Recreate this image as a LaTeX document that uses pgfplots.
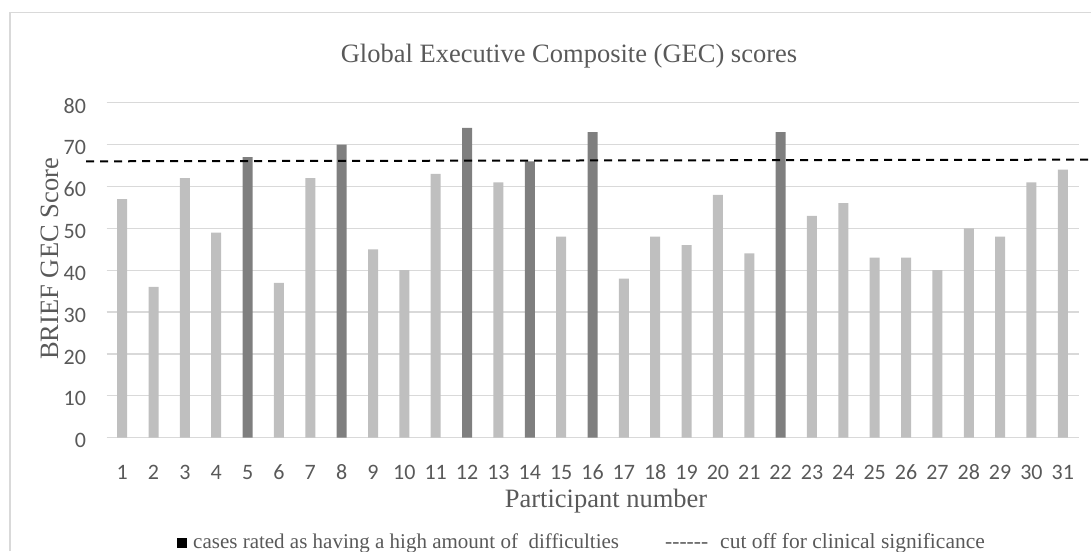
\documentclass[border=0pt]{standalone}
\usepackage{fontspec}
\setmainfont{Liberation Serif}
\newfontfamily\serif{Liberation Serif}
\newfontfamily\carlito{Carlito}
\usepackage{pgfplots}
\pgfplotsset{compat=1.18}

\definecolor{lightbar}{HTML}{BFBFBF}
\definecolor{darkbar}{HTML}{7F7F7F}
\definecolor{gridgray}{HTML}{D9D9D9}
\definecolor{textgray}{HTML}{595959}

\begin{document}
\begin{tikzpicture}[x=1pt,y=1pt]
\useasboundingbox (0,0) rectangle (1091,551);
% chart frame
\draw[gridgray, line width=1.3pt] (10,0) -- (10,538.3) -- (1091,538.3);

\begin{axis}[
    at={(106.5pt,113.3pt)}, anchor=south west,
    scale only axis,
    width=972pt, height=335pt,
    xmin=0.5, xmax=31.5,
    ymin=0, ymax=80,
    xtick={1,...,31},
    ytick={0,10,...,80},
    axis line style={draw=none},
    major tick length=0pt,
    ymajorgrids,
    major grid style={draw=gridgray, line width=1.3pt},
    clip=false,
    /pgf/number format/assume math mode=true,
    ticklabel style={font=\fontsize{22}{22}\selectfont\carlito, text=textgray},
    yticklabel style={xshift=-17pt, yshift=-3pt},
    xticklabel style={anchor=base, yshift=-42pt},
]
\addplot[ybar, bar width=10pt, bar shift=0pt, fill=lightbar, draw=none] coordinates {
 (1,57) (2,36) (3,62) (4,49) (6,37) (7,62) (9,45) (10,40) (11,63) (13,61)
 (15,48) (17,38) (18,48) (19,46) (20,58) (21,44) (23,53) (24,56) (25,43)
 (26,43) (27,40) (28,50) (29,48) (30,61) (31,64)
};
\addplot[ybar, bar width=10pt, bar shift=0pt, fill=darkbar, draw=none] coordinates {
 (5,67) (8,70) (12,74) (14,66) (16,73) (22,73)
};
% cut off for clinical significance
\addplot[black, line width=2pt, dash pattern=on 8pt off 6pt] coordinates {
 (-0.15,66.0) (31.89,66.4)
};
\end{axis}

% title and axis titles
\node[anchor=base, text=textgray, font=\fontsize{26.5}{26.5}\selectfont\serif, inner sep=0]
  at (569,488) {Global Executive Composite (GEC) scores};
\node[anchor=base, text=textgray, font=\fontsize{26.5}{26.5}\selectfont\serif, inner sep=0]
  at (606,43) {Participant number};
\node[anchor=base west, rotate=90, text=textgray, font=\fontsize{26.5}{26.5}\selectfont\serif, inner sep=0]
  at (58,191) {BRIEF GEC Score};

% legend line
\fill[black] (177,3) rectangle (187,13);
\node[anchor=base west, text=textgray, font=\fontsize{21}{21}\selectfont\serif, inner sep=0]
  at (193,3) {cases rated as having a high amount of\ \ difficulties};
\node[anchor=base west, text=textgray, font=\fontsize{21.5}{21.5}\selectfont\serif, inner sep=0]
  at (665,3) {------};
\node[anchor=base west, text=textgray, font=\fontsize{21.5}{21.5}\selectfont\serif, inner sep=0]
  at (720,3) {cut off for clinical significance};
\end{tikzpicture}
\end{document}
